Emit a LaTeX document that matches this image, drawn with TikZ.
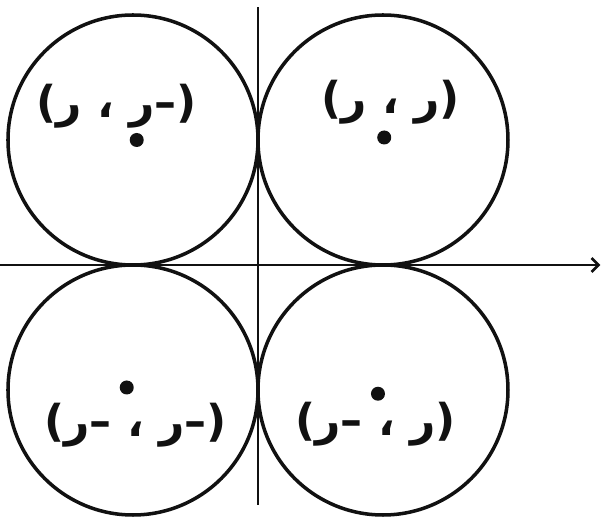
\documentclass[tikz,border=0pt]{standalone}
\usepackage{fontspec}
\usetikzlibrary{positioning, arrows.meta}
\newfontfamily\arabicfont[Script=Arabic]{DejaVu Sans}
\TeXXeTstate=1
\definecolor{ink}{HTML}{111111}
\newcommand{\LabelF}{\fontsize{25}{30}\selectfont\arabicfont\bfseries}

\begin{document}
\begin{tikzpicture}[x=2.5cm, y=2.5cm,
  pen/.style={draw=ink, line width=2pt},
  axis/.style={draw=ink, line width=1.6pt},
  dot/.style={circle, fill=ink, inner sep=0pt, minimum size=2.8mm},
  lbl/.style={font=\LabelF, text=ink, inner sep=1pt}]
  \useasboundingbox (-2.064,-2.024) rectangle (2.768,2.12);

  % axes
  \coordinate (xl) at (-2.064,0);
  \coordinate (xr) at (2.74,0);
  \coordinate (yt) at (0,2.06);
  \coordinate (yb) at (0,-1.92);
  \draw[axis, -{Straight Barb[length=1.4mm]}] (xl) -- (xr);
  \draw[axis] (yb) -- (yt);

  % circles
  \draw[pen] (-1,1) circle (1);
  \draw[pen] (1,1) circle (1);
  \draw[pen] (-1,-1) circle (1);
  \draw[pen] (1,-1) circle (1);

  % centres
  \node[dot] (tl) at (-0.97,1.0) {};
  \node[dot] (tr) at (1.01,1.02) {};
  \node[dot] (bl) at (-1.05,-0.98) {};
  \node[dot] (br) at (0.96,-1.03) {};

  % labels
  \node[lbl] (tlname) at (-1.13,1.27) {\beginR(–ر ، ر)\endR};
  \node[lbl] (trname) at (1.06,1.3) {\beginR(ر ، ر)\endR};
  \node[lbl] (blname) at (-0.98,-1.28) {\beginR(–ر ، –ر)\endR};
  \node[lbl] (brname) at (0.94,-1.27) {\beginR(ر ، –ر)\endR};
\end{tikzpicture}
\end{document}
